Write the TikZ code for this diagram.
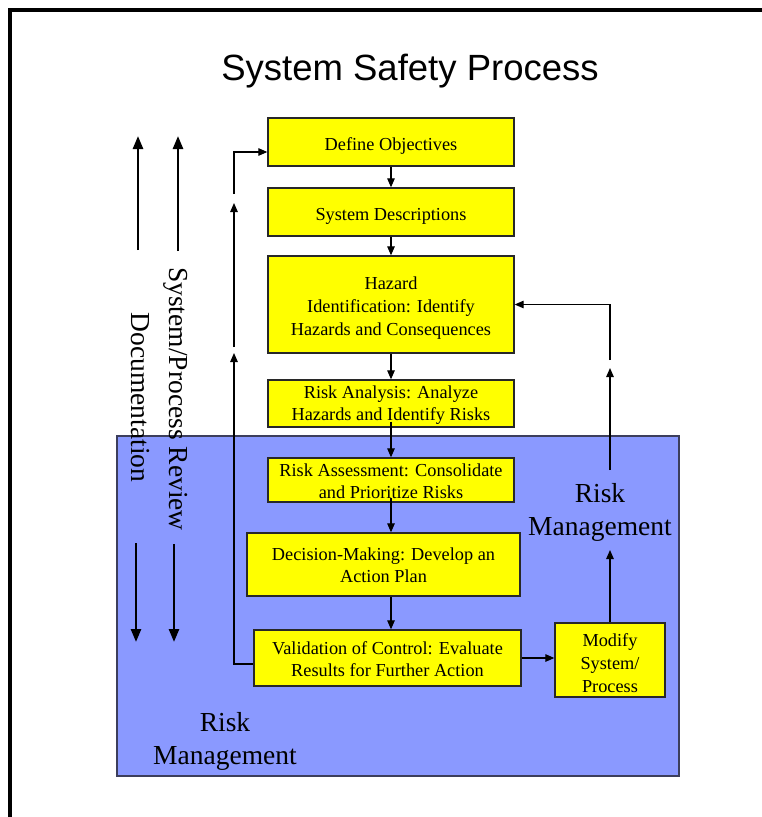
\documentclass[tikz,border=0pt]{standalone}
\usepackage{fontspec}
\setmainfont{Liberation Serif}
\newfontfamily\titlefont{Liberation Sans}
\usetikzlibrary{arrows.meta}

\definecolor{boxfill}{RGB}{255,255,0}
\definecolor{boxline}{RGB}{40,40,40}
\definecolor{riskfill}{RGB}{138,153,255}
\definecolor{riskline}{RGB}{60,62,92}

\newcommand{\boxfont}{\fontsize{18.3}{23}\selectfont}
\newcommand{\pairfont}{\fontsize{18.3}{22}\selectfont}
\newcommand{\sidefont}{\fontsize{27.5}{33}\selectfont}
% invisible struts that set the first line of a box a little lower
\newcommand{\tp}{\rule{0pt}{20pt}}
\newcommand{\tq}{\rule{0pt}{15pt}}

\tikzset{
  stepbox/.style={draw=boxline, fill=boxfill, line width=1.3pt, align=center,
                  inner sep=0pt, font=\boxfont},
  pairbox/.style={stepbox, font=\pairfont},
  flow/.style={line width=1.2pt, -{Triangle[length=9pt,width=7.5pt]}},
  bigarrow/.style={line width=2.6pt, -{Triangle[length=13pt,width=10pt]}},
  sidelabel/.style={font=\sidefont, rotate=-90, inner sep=0pt},
  zonelabel/.style={font=\sidefont, align=center, inner sep=0pt},
}

\begin{document}
\begin{tikzpicture}[x=1pt,y=-1pt]
\fill[white] (0,0) rectangle (762,817);
\useasboundingbox (0,0) rectangle (762,817);

% page frame: left and top edges
\draw[line width=4pt] (10,817) -- (10,10) -- (762,10);

% title
\node[font=\titlefont\fontsize{36.5}{40}\selectfont, anchor=base, inner sep=0pt]
  (title) at (410,80) {System Safety Process};

% risk management zone
\draw[riskline, fill=riskfill, line width=1.5pt] (117,436) rectangle (679,776);

% process steps
\node[stepbox, minimum width=246pt, minimum height=48pt] (obj)  at (391,142)   {\tp Define Objectives};
\node[stepbox, minimum width=246pt, minimum height=48pt] (sysd) at (391,212)   {\tp System Descriptions};
\node[stepbox, minimum width=246pt, minimum height=97pt] (haz)  at (391,304.5) {\tp Hazard\\Identification: Identify\\Hazards and Consequences};
\node[pairbox, minimum width=246pt, minimum height=47pt] (ran)  at (391,403.5) {\tq Risk Analysis: Analyze\\Hazards and Identify Risks};
\node[pairbox, minimum width=246pt, minimum height=44pt] (rass) at (391,480)   {\tq Risk Assessment: Consolidate\\and Prioritize Risks};
\node[pairbox, minimum width=273pt, minimum height=63pt] (dec)  at (383.5,564.5) {\tq Decision-Making: Develop an\\Action Plan};
\node[pairbox, minimum width=267pt, minimum height=56pt] (val)  at (387.5,658) {\tq Validation of Control: Evaluate\\Results for Further Action};
\node[stepbox, minimum width=110pt, minimum height=74pt] (mod)  at (610,660)   {\tp Modify\\System/\\Process};

% main flow
\coordinate (decout) at (dec.south -| obj.south);
\draw[flow] (obj.south) -- (sysd.north);
\draw[flow] (sysd.south) -- (haz.north);
\draw[flow] (haz.south) -- (ran.north);
\draw[flow] ([yshift=6pt]ran.south) -- (rass.north);
\draw[flow] ([yshift=5pt]rass.south) -- (rass.south |- dec.north);
\draw[flow] (decout) -- (decout |- val.north);
\draw[flow] (val.east) -- (val.east -| mod.west);

% feedback to the objectives
\coordinate (lbot) at (234,664);
\coordinate (l1)   at (234,353);
\coordinate (l2)   at (234,347);
\coordinate (l3)   at (234,203);
\coordinate (l4)   at (234,194);
\coordinate (ltop) at (234,152);
\draw[flow] (val.west |- lbot) -- (lbot) -- (l1);
\draw[flow] (l2) -- (l3);
\draw[flow] (l4) -- (ltop) -- (ltop -| obj.west);

% feedback to hazard identification
\coordinate (r1)   at (610,550);
\coordinate (r2)   at (610,470);
\coordinate (r3)   at (610,368);
\coordinate (r4)   at (610,360);
\coordinate (rtop) at (610,304.5);
\draw[flow] (mod.north) -- (r1);
\draw[flow] (r2) -- (r3);
\draw[flow] (r4) -- (rtop) -- (haz.east);

% review and documentation arrows
\coordinate (da) at (138,250); \coordinate (dat) at (138,136);
\coordinate (sa) at (178,251); \coordinate (sat) at (178,136);
\coordinate (db) at (136,543); \coordinate (dbt) at (136,642);
\coordinate (sb) at (174,544); \coordinate (sbt) at (174,642);
\draw[bigarrow] (da) -- (dat);
\draw[bigarrow] (sa) -- (sat);
\draw[bigarrow] (db) -- (dbt);
\draw[bigarrow] (sb) -- (sbt);

\node[sidelabel] (rev) at (176,399)   {System/Process Review};
\node[sidelabel] (doc) at (140,397.5) {Documentation};

% zone labels
\node[zonelabel] (rmright) at (600,512) {Risk\\Management};
\node[zonelabel] (rmleft)  at (225,741) {Risk\\Management};
\end{tikzpicture}
\end{document}
